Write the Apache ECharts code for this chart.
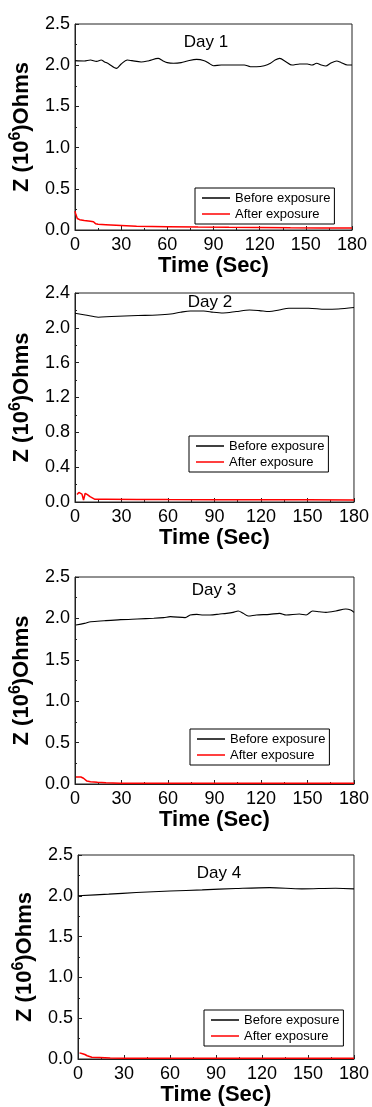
<!DOCTYPE html>
<html><head><meta charset="utf-8">
<script src="https://cdn.jsdelivr.net/npm/echarts/dist/echarts.min.js"></script>
<style>html,body{margin:0;padding:0;background:#fff}#c{width:372px;height:1107px}</style>
</head><body><div id="c"></div>
<script>
// ---- data ----
const dayLabels = ['Day 1', 'Day 2', 'Day 3', 'Day 4'];
const seriesNames = ['Before exposure', 'After exposure'];
const xMin = 0, xMax = 180, xStep = 30;
const yMaxes = [2.5, 2.4, 2.5, 2.5];
const ySteps = [0.5, 0.4, 0.5, 0.5];

const day1BeforeT = [0, 6, 10, 14, 17, 19, 22, 27, 30, 34, 37, 43, 48, 54, 57, 60, 64, 69, 73, 79, 84, 87, 90, 95, 101, 110, 114, 118, 123, 127, 130, 133, 137, 141, 146, 151, 154, 157, 160, 163, 166, 170, 173, 177, 180];
const day1BeforeZ = [2.055, 2.051, 2.063, 2.047, 2.063, 2.043, 2.015, 1.962, 2.015, 2.063, 2.055, 2.039, 2.055, 2.083, 2.055, 2.031, 2.023, 2.031, 2.051, 2.071, 2.055, 2.023, 1.994, 2.002, 2.002, 2.002, 1.982, 1.982, 1.994, 2.023, 2.063, 2.083, 2.043, 2.002, 2.015, 2.015, 2.002, 2.023, 2.002, 1.99, 2.023, 2.051, 2.031, 2.002, 2.002];
const day1AfterT = [0, 0.5, 1.5, 3, 6, 10, 12, 13.5, 15, 20, 30, 40, 60, 80, 100, 120, 140, 160, 180];
const day1AfterZ = [0.23, 0.19, 0.14, 0.125, 0.115, 0.105, 0.10, 0.075, 0.07, 0.065, 0.055, 0.045, 0.04, 0.035, 0.032, 0.03, 0.027, 0.025, 0.024];

const day2BeforeT = [0, 6.6, 15, 23.5, 40.5, 53, 61.7, 68, 74.4, 83, 89.3, 95.6, 104, 112.6, 119, 125.3, 131.7, 138, 150.8, 161.4, 169.8, 180];
const day2BeforeZ = [2.167, 2.148, 2.122, 2.13, 2.141, 2.148, 2.159, 2.179, 2.194, 2.194, 2.179, 2.171, 2.187, 2.205, 2.198, 2.187, 2.205, 2.225, 2.225, 2.213, 2.217, 2.233];
const day2AfterT = [1.3, 2.5, 3.5, 4.5, 5.5, 6.6, 8, 9.7, 12.9, 20, 40, 60, 90, 120, 150, 180];
const day2AfterZ = [0.085, 0.11, 0.13, 0.09, 0.023, 0.10, 0.085, 0.061, 0.031, 0.032, 0.03, 0.028, 0.027, 0.026, 0.025, 0.024];

const day3BeforeT = [0.6, 6, 10.2, 18.8, 29.5, 40.2, 50.8, 57.2, 61.5, 71.1, 74.3, 78.6, 82.8, 87.1, 93.5, 97.8, 102, 105.3, 108.5, 111.7, 117, 125.6, 132, 136.3, 144.8, 149.1, 153.3, 157.6, 161.9, 168.3, 174.7, 177.9, 180];
const day3BeforeZ = [1.92, 1.94, 1.96, 1.972, 1.985, 1.993, 2.001, 2.009, 2.021, 2.009, 2.041, 2.049, 2.041, 2.041, 2.053, 2.061, 2.073, 2.089, 2.061, 2.029, 2.041, 2.049, 2.061, 2.041, 2.053, 2.041, 2.089, 2.081, 2.073, 2.089, 2.114, 2.101, 2.073];
const day3AfterT = [0.6, 3.8, 5.5, 7.7, 10, 14.5, 20, 29, 50, 90, 130, 180];
const day3AfterZ = [0.085, 0.085, 0.07, 0.035, 0.028, 0.02, 0.015, 0.01, 0.01, 0.01, 0.01, 0.01];

const day4BeforeT = [0, 20, 38, 60, 81, 103, 125, 146, 168, 180];
const day4BeforeZ = [2.0, 2.02, 2.04, 2.058, 2.073, 2.089, 2.10, 2.085, 2.093, 2.085];
const day4AfterT = [1, 3, 4.5, 6, 9, 14, 21, 30, 60, 100, 140, 180];
const day4AfterZ = [0.075, 0.065, 0.055, 0.04, 0.022, 0.018, 0.012, 0.01, 0.01, 0.01, 0.01, 0.01];

const beforeT = [day1BeforeT, day2BeforeT, day3BeforeT, day4BeforeT];
const beforeZ = [day1BeforeZ, day2BeforeZ, day3BeforeZ, day4BeforeZ];
const afterT = [day1AfterT, day2AfterT, day3AfterT, day4AfterT];
const afterZ = [day1AfterZ, day2AfterZ, day3AfterZ, day4AfterZ];

// ---- layout ----
const grids = [
  {left: 74, top: 24, width: 278, height: 206},
  {left: 73, top: 293, width: 283, height: 209},
  {left: 74, top: 577, width: 281, height: 207},
  {left: 78, top: 855, width: 277, height: 205}
];
const legendPos = [[195, 188], [189, 436], [190, 729], [204, 1010]];
const dayPos = [[206, 42], [210, 302], [214, 590], [219, 873]];

const FONT = '"Liberation Sans", Arial, sans-serif';
const zip = (t, z) => t.map((v, i) => [v, z[i]]);

const option = {
  backgroundColor: '#fff',
  animation: false,
  grid: grids.map(g => Object.assign({show: true, borderColor: '#222', borderWidth: 1, backgroundColor: 'transparent'}, g)),
  xAxis: grids.map((g, i) => ({
    type: 'value', gridIndex: i, min: xMin, max: xMax, interval: xStep,
    name: 'Time (Sec)', nameLocation: 'middle', nameGap: 25,
    nameTextStyle: {fontFamily: FONT, fontSize: 22, fontWeight: 'bold', color: '#000'},
    axisLine: {show: true, lineStyle: {color: '#222', width: 1}},
    axisTick: {show: true, inside: true, length: 4, lineStyle: {color: '#222'}},
    minorTick: {show: true, splitNumber: 2, length: 2, lineStyle: {color: '#222'}},
    splitLine: {show: false},
    axisLabel: {fontFamily: FONT, fontSize: 18, color: '#000', margin: 6}
  })),
  yAxis: grids.map((g, i) => ({
    type: 'value', gridIndex: i, min: 0, max: yMaxes[i], interval: ySteps[i],
    name: '{a|Z (10}{b|6}{a|)Ohms}', nameLocation: 'middle', nameGap: 39, nameRotate: 90,
    nameTextStyle: {
      fontFamily: FONT, fontWeight: 'bold', color: '#000',
      rich: {
        a: {fontFamily: FONT, fontSize: 22, fontWeight: 'bold', color: '#000', lineHeight: 28},
        b: {fontFamily: FONT, fontSize: 16, fontWeight: 'bold', color: '#000', lineHeight: 16, verticalAlign: 'top'}
      }
    },
    axisLine: {show: true, lineStyle: {color: '#222', width: 1}},
    axisTick: {show: true, inside: true, length: 4, lineStyle: {color: '#222'}},
    minorTick: {show: true, splitNumber: 2, length: 2, lineStyle: {color: '#222'}},
    splitLine: {show: false},
    axisLabel: {fontFamily: FONT, fontSize: 18, color: '#000', margin: 5, formatter: v => v.toFixed(1)}
  })),
  legend: legendPos.map(p => ({
    left: p[0], top: p[1], orient: 'vertical',
    data: seriesNames.map(n => ({name: n, icon: 'rect'})), selectedMode: false,
    itemWidth: 28, itemHeight: 1.5, itemGap: 2,
    padding: [3, 4, 3, 7],
    borderColor: '#000', borderWidth: 1, backgroundColor: '#fff',
    textStyle: {fontFamily: FONT, fontSize: 13, color: '#000', lineHeight: 14}
  })),
  graphic: dayPos.map((p, i) => ({
    type: 'text', x: p[0], y: p[1], z: 10,
    style: {text: dayLabels[i], font: '17px ' + FONT, fill: '#000', align: 'center', verticalAlign: 'middle'}
  })),
  series: []
};

for (let i = 0; i < 4; i++) {
  option.series.push({
    type: 'line', name: seriesNames[0], xAxisIndex: i, yAxisIndex: i,
    data: zip(beforeT[i], beforeZ[i]), symbol: 'none', smooth: 0.3,
    lineStyle: {color: '#000', width: 1.1}, itemStyle: {color: '#000'}
  });
  option.series.push({
    type: 'line', name: seriesNames[1], xAxisIndex: i, yAxisIndex: i,
    data: zip(afterT[i], afterZ[i]), symbol: 'none',
    lineStyle: {color: '#ff0000', width: 1.5}, itemStyle: {color: '#ff0000'}
  });
}

const chart = echarts.init(document.getElementById('c'), null, {renderer: 'canvas'});
chart.setOption(option);
</script>
</body></html>
